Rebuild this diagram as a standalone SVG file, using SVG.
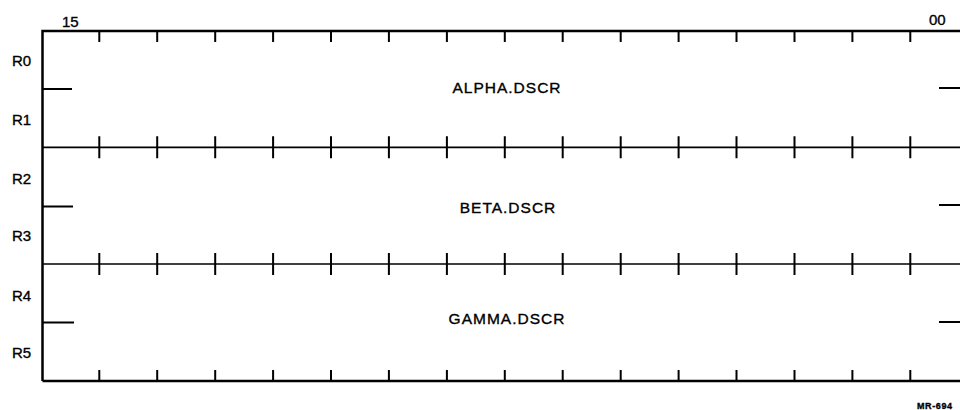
<svg xmlns="http://www.w3.org/2000/svg" width="960" height="410" viewBox="0 0 960 410">
<style>
.t{font-family:"Liberation Sans",Arial,sans-serif;fill:#000;stroke:#000;stroke-width:0.35px;}
.lbl{font-size:15px;}
.fld{font-size:15.5px;letter-spacing:1px;text-anchor:middle;}
.frame{stroke:#000;fill:none;stroke-linecap:butt;}
</style>
<defs>
<path id="topTicks" d="M99.3 31v11M157.2 31v11M215.2 31v11M273.1 31v11M331 31v11M388.9 31v11M446.9 31v11M504.8 31v11M562.7 31v11M620.7 31v11M678.6 31v11M736.5 31v11M794.5 31v11M852.4 31v11M910.3 31v11"/>
<path id="midTicks" d="M99.3 -11v22M157.2 -11v22M215.2 -11v22M273.1 -11v22M331 -11v22M388.9 -11v22M446.9 -11v22M504.8 -11v22M562.7 -11v22M620.7 -11v22M678.6 -11v22M736.5 -11v22M794.5 -11v22M852.4 -11v22M910.3 -11v22"/>
</defs>
<g id="frame" class="frame">
<path d="M42.5 381V31H960" stroke-width="2.5"/>
<path d="M42.5 381H960" stroke-width="2.5"/>
<use href="#topTicks" stroke-width="2"/>
<use href="#topTicks" transform="translate(0 339)" stroke-width="2"/>
</g>
<g id="dividers" class="frame">
<path d="M42.5 147.3H960M42.5 264H960" stroke-width="1.7"/>
<use href="#midTicks" transform="translate(0 147.3)" stroke-width="2"/>
<use href="#midTicks" transform="translate(0 264)" stroke-width="2"/>
</g>
<g id="side-ticks" class="frame" stroke-width="1.8">
<path d="M43 89H72M43 206.5H73M43 322.5H74M939 88H960M939 205H960M939 322H960"/>
</g>
<g id="bit-labels">
<text class="t lbl" x="62" y="27" font-size="16">15</text>
<text class="t lbl" x="929" y="25" font-size="16">00</text>
</g>
<g id="reg-labels">
<text class="t lbl" x="12" y="65.5">R0</text>
<text class="t lbl" x="12" y="125">R1</text>
<text class="t lbl" x="12" y="184">R2</text>
<text class="t lbl" x="12" y="241">R3</text>
<text class="t lbl" x="12" y="301">R4</text>
<text class="t lbl" x="12" y="358">R5</text>
</g>
<g id="alpha"><text class="t fld" x="507" y="93.3">ALPHA.DSCR</text></g>
<g id="beta"><text class="t fld" x="508" y="213.3">BETA.DSCR</text></g>
<g id="gamma"><text class="t fld" x="507" y="324">GAMMA.DSCR</text></g>
<g id="ref"><text class="t" x="917" y="408.5" font-size="9" font-weight="bold" letter-spacing="0.6" stroke-width="0">MR-694</text></g>
</svg>
